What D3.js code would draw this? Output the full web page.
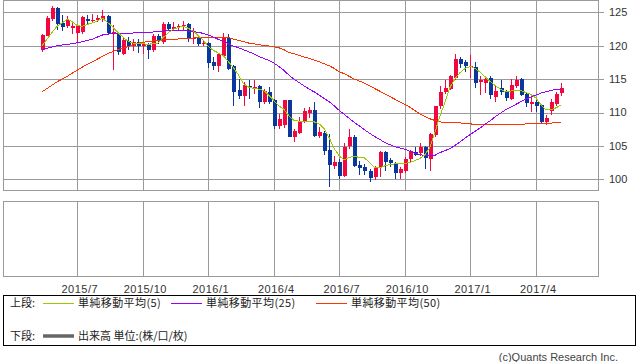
<!DOCTYPE html>
<html lang="ja">
<head>
<meta charset="UTF-8">
<title>週足チャート</title>
<script src="https://d3js.org/d3.v7.min.js"></script>
<style>
  body { margin: 0; background: #fff; }
  svg { display: block; font-family: "Liberation Sans", Arial, sans-serif; }
  .frame { fill: none; stroke: #9a9a9a; shape-rendering: crispEdges; }
  .grid line { stroke: #9a9a9a; shape-rendering: crispEdges; }
  .axis text { font-size: 11px; fill: #333; }
  .legend text { font-family: "Noto Sans CJK JP", sans-serif; font-size: 11px; fill: #222; }
</style>
</head>
<body>
<svg id="chart" width="638" height="362"></svg>
<script>
// weekly candles, first week 2015/5/18, last week 2017/5/8
const weeks = d3.timeMonday.range(new Date(2015, 4, 18), new Date(2017, 4, 9));

const open = [119.3,121.5,124.0,125.7,123.4,122.9,122.7,121.9,122.0,124.0,123.7,123.9,124.0,124.5,121.8,121.9,118.7,120.7,120.0,120.6,
  119.9,120.2,119.4,121.5,120.6,123.2,122.5,122.8,122.9,123.3,121.0,121.2,120.2,120.4,117.6,116.9,118.5,121.2,116.9,113.3,
  112.5,114.0,113.6,114.0,111.5,113.1,111.8,108.0,108.1,111.9,106.3,107.0,108.6,110.0,110.3,106.5,107.0,104.4,102.0,102.6,
  100.5,105.0,106.4,102.2,101.9,101.3,100.4,101.9,104.1,102.9,102.4,101.0,101.3,103.0,104.1,103.9,104.9,103.1,106.6,110.9,
  113.0,113.5,115.1,117.95,117.5,116.9,116.85,114.6,114.4,115.1,112.35,113.6,113.0,112.0,113.95,114.95,112.75,111.2,111.5,111.1,
  108.6,110.25,111.2,112.95];
const high = [121.7,124.5,125.9,125.8,124.6,124.4,123.6,123.1,124.5,124.6,124.8,124.6,125.3,124.6,123.1,122.0,121.3,121.3,121.0,121.0,
  120.6,120.4,121.7,121.7,123.6,123.5,123.5,123.2,123.7,123.4,122.7,121.5,120.8,120.6,118.3,118.9,121.9,121.7,117.1,115.0,
  114.6,114.8,114.9,114.1,113.5,113.8,112.0,109.8,111.9,111.9,107.5,109.4,110.6,110.8,111.6,107.9,107.2,106.8,103.5,103.0,
  105.5,107.5,106.6,102.8,102.3,101.5,102.0,104.3,104.3,103.2,102.6,101.9,103.4,104.4,104.8,105.4,105.0,106.9,111.0,114.0,
  114.85,115.6,118.75,118.3,117.9,118.6,117.6,115.4,115.4,115.4,114.0,114.9,113.3,114.95,115.5,115.2,113.0,112.4,112.2,111.3,
  109.6,112.0,113.0,114.35];
const low = [119.1,121.4,123.7,122.4,122.2,122.6,121.8,120.4,121.7,123.3,123.5,123.6,123.6,121.7,116.3,118.6,118.6,119.3,119.2,118.9,
  118.7,118.0,119.0,120.2,120.3,122.2,122.2,122.2,122.3,120.6,120.3,120.0,119.9,116.7,116.3,116.0,118.3,116.3,111.0,112.0,
  111.0,112.0,112.7,110.6,111.3,111.3,107.6,107.6,107.7,106.3,105.6,106.8,108.4,109.2,106.4,106.2,103.6,98.9,101.5,100.0,
  100.4,104.6,101.8,100.7,100.6,99.6,99.9,100.3,101.2,101.9,100.1,100.1,101.0,102.6,103.5,103.5,101.5,101.2,106.3,110.5,
  112.8,113.4,114.8,116.6,116.1,115.1,113.7,112.6,112.9,112.0,111.6,112.6,111.7,111.8,113.6,112.4,110.8,110.1,110.1,108.3,
  108.15,109.6,111.0,112.45];
const close = [121.6,124.2,125.7,123.2,122.8,123.9,122.9,122.9,124.3,123.7,123.9,124.2,124.4,121.9,122.0,119.0,120.8,120.0,120.6,119.9,
  120.2,119.4,121.5,120.7,123.3,122.5,122.8,122.9,123.1,121.0,121.2,120.3,120.4,117.4,117.0,118.8,121.2,116.5,113.1,112.5,
  114.1,113.7,113.8,111.5,113.2,111.6,108.0,109.0,111.8,106.4,107.3,108.8,110.2,110.3,106.5,107.1,104.2,102.1,102.6,100.5,
  104.9,106.3,102.0,101.7,101.3,100.2,101.8,104.1,102.6,102.4,101.0,101.5,103.1,104.2,103.7,104.9,103.2,106.8,111.0,113.1,
  113.7,115.45,117.95,117.3,116.9,117.0,114.45,114.85,115.0,112.6,113.25,113.0,112.1,114.1,114.85,112.6,111.4,111.5,111.0,108.55,
  109.2,111.6,112.75,113.7];

// moving averages as drawn on the chart
const ma5 = [119.95,121.0,122.0,122.9,123.4,123.95,123.6,123.0,122.9,123.2,123.4,123.7,124.1,123.5,122.85,122.0,121.35,120.7,120.4,120.3,
  120.3,120.2,120.3,120.4,121.2,121.9,122.45,122.7,122.95,122.6,122.2,121.5,120.8,119.9,119.3,118.9,118.5,117.6,116.7,115.6,
  114.3,113.8,113.6,113.5,113.3,112.6,111.8,111.0,110.5,109.5,108.8,108.7,108.7,108.7,108.6,108.3,107.6,106.2,104.6,103.5,
  102.9,103.3,103.4,103.3,103.2,102.5,101.8,101.7,102.0,102.2,102.3,102.3,102.4,102.5,102.8,103.1,103.7,104.8,107.1,109.5,
  111.6,113.8,115.1,116.0,116.6,116.9,116.6,116.0,115.3,114.6,114.0,113.5,113.1,113.2,113.3,113.3,113.0,112.7,112.2,111.2,
  110.4,110.4,110.7,111.1];
const ma25 = [119.45,119.6,119.8,120.0,120.1,120.2,120.3,120.45,120.6,120.8,120.95,121.3,121.6,121.7,121.85,121.85,121.85,121.85,121.9,121.95,
  122.0,122.0,122.05,122.1,122.2,122.25,122.25,122.25,122.25,122.2,122.1,122.0,121.85,121.6,121.3,120.95,120.7,120.3,119.95,119.7,
  119.4,119.1,118.8,118.4,118.1,117.8,117.4,116.9,116.3,115.6,115.0,114.5,114.0,113.5,113.1,112.6,112.1,111.6,111.0,110.3,
  109.7,109.1,108.5,108.0,107.4,106.9,106.4,106.0,105.5,105.2,104.9,104.7,104.5,104.2,103.9,103.7,103.55,103.5,103.6,104.0,
  104.3,104.6,105.1,105.6,106.2,106.7,107.2,107.7,108.3,108.8,109.4,109.9,110.4,110.8,111.2,111.6,112.0,112.3,112.6,112.9,
  113.1,113.3,113.45,113.5];
const ma50 = [113.1,113.6,114.1,114.6,115.0,115.4,115.9,116.35,116.8,117.2,117.6,118.0,118.4,118.8,119.1,119.4,119.6,119.85,120.1,120.35,
  120.5,120.6,120.7,120.8,120.85,120.9,120.95,121.0,121.05,121.1,121.15,121.2,121.2,121.25,121.25,121.25,121.25,121.2,121.0,120.8,
  120.6,120.4,120.3,120.15,120.05,119.95,119.85,119.7,119.4,119.0,118.8,118.55,118.3,118.1,117.85,117.6,117.3,117.0,116.6,116.1,
  115.8,115.4,115.0,114.7,114.4,114.0,113.6,113.2,112.8,112.4,112.0,111.6,111.2,110.8,110.3,109.8,109.4,109.05,108.8,108.6,
  108.5,108.5,108.5,108.45,108.35,108.3,108.2,108.15,108.15,108.15,108.15,108.15,108.15,108.15,108.15,108.2,108.3,108.3,108.3,108.3,
  108.3,108.4,108.5,108.5];

const yTicks = [100, 105, 110, 115, 120, 125];
const xTickLabels = ["2015/7", "2015/10", "2016/1", "2016/4", "2016/7", "2016/10", "2017/1", "2017/4"];

const colUp = "#f2073f", colDown = "#0a379e";
const maColors = ["#99cc00", "#9900ff", "#ff3300"];

const svg = d3.select("#chart");
const left = 3, right = 598;

const x = d3.scalePoint().domain(weeks.map(d => +d)).range([42, 561]);
const y = d3.scaleLinear().domain([100, 125]).range([179.3, 12.3]);

// first week of each labelled month
const tickWeeks = xTickLabels.map(s => {
  const [yy, mm] = s.split("/").map(Number);
  return weeks.find(w => w.getFullYear() === yy && w.getMonth() === mm - 1);
});
const tx = w => Math.round(x(+w)) + 0.5;

// ---- upper panel
const grid = svg.append("g").attr("class", "grid");
grid.selectAll(".h").data(yTicks).enter().append("line")
  .attr("x1", left).attr("x2", right + 6)
  .attr("y1", d => Math.round(y(d)) + 0.5).attr("y2", d => Math.round(y(d)) + 0.5);
grid.selectAll(".v").data(tickWeeks).enter().append("line")
  .attr("x1", tx).attr("x2", tx).attr("y1", 0).attr("y2", 190);
svg.append("rect").attr("class", "frame")
  .attr("x", left + 0.5).attr("y", 0.5).attr("width", right - left).attr("height", 190);

svg.append("g").attr("class", "axis").selectAll("text").data(yTicks).enter().append("text")
  .attr("x", 609).attr("y", d => y(d)).attr("dy", "0.35em").text(d => d);

// candles
const candles = svg.append("g");
weeks.forEach((w, i) => {
  const cx = Math.round(x(+w));
  const up = close[i] >= open[i];
  const c = up ? colUp : colDown;
  candles.append("line")
    .attr("x1", cx + 0.5).attr("x2", cx + 0.5)
    .attr("y1", y(high[i])).attr("y2", y(low[i]))
    .attr("stroke", c).attr("shape-rendering", "crispEdges");
  const top = y(Math.max(open[i], close[i])), bot = y(Math.min(open[i], close[i]));
  candles.append("rect")
    .attr("x", cx - 1.5).attr("width", 4)
    .attr("y", top).attr("height", Math.max(1, bot - top))
    .attr("fill", c).attr("shape-rendering", "crispEdges");
});

// moving averages, drawn over the candles
const maLine = arr => d3.line().x((d, i) => x(+weeks[i])).y(d => y(d))(arr);
[ma50, ma25, ma5].forEach((arr, k) => {
  svg.append("path").attr("d", maLine(arr)).attr("fill", "none")
    .attr("stroke", maColors[2 - k]).attr("stroke-width", 1)
    .attr("shape-rendering", "crispEdges");
});

// ---- lower (volume) panel, empty
const lower = svg.append("g").attr("class", "grid");
lower.selectAll("line").data(tickWeeks).enter().append("line")
  .attr("x1", tx).attr("x2", tx).attr("y1", 202).attr("y2", 276);
svg.append("rect").attr("class", "frame")
  .attr("x", left + 0.5).attr("y", 201.5).attr("width", right - left).attr("height", 75);

svg.append("g").attr("class", "axis").selectAll("text").data(tickWeeks).enter().append("text")
  .attr("x", w => x(+w) + 2.5).attr("y", 289).attr("dy", "0.35em")
  .attr("text-anchor", "middle").attr("letter-spacing", "0.5px")
  .text((w, i) => xTickLabels[i]);

// ---- legend
const lg = svg.append("g").attr("class", "legend");
lg.append("rect").attr("x", 3.5).attr("y", 295.5).attr("width", 632).attr("height", 50)
  .attr("fill", "none").attr("stroke", "#000").attr("shape-rendering", "crispEdges");
lg.append("text").attr("x", 10).attr("y", 303.5).attr("dy", "0.35em").text("上段:");
const maNames = ["単純移動平均(5)", "単純移動平均(25)", "単純移動平均(50)"];
const maLegX = [43, 171, 316];
maNames.forEach((name, k) => {
  lg.append("line").attr("x1", maLegX[k]).attr("x2", maLegX[k] + 31)
    .attr("y1", 303.5).attr("y2", 303.5).attr("stroke", maColors[k]);
  lg.append("text").attr("x", maLegX[k] + 35).attr("y", 303.5).attr("dy", "0.35em")
    .attr("letter-spacing", "0.4px").text(name);
});
lg.append("text").attr("x", 10).attr("y", 336).attr("dy", "0.35em").text("下段:");
lg.append("line").attr("x1", 43).attr("x2", 74).attr("y1", 336).attr("y2", 336)
  .attr("stroke", "#666").attr("stroke-width", 3.5);
lg.append("text").attr("x", 78).attr("y", 336).attr("dy", "0.35em").text("出来高 単位:(株/口/枚)");

svg.append("text").attr("x", 618).attr("y", 357).attr("dy", "0.35em")
  .attr("text-anchor", "end").attr("font-size", "11px").attr("fill", "#444")
  .text("(c)Quants Research Inc.");
</script>
</body>
</html>
